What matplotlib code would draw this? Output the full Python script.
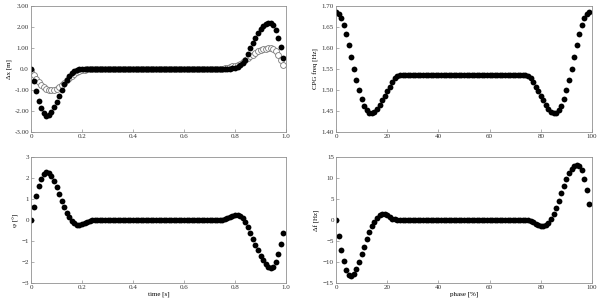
import numpy as np
import matplotlib
matplotlib.use("Agg")
import matplotlib.pyplot as plt

plt.rcParams['font.family'] = ['Liberation Serif', 'DejaVu Serif']
plt.rcParams['font.size'] = 5

# sample index 0..99 (phase of the cycle)
idx = np.arange(100)
t_left = idx / 100.0      # left column: time [s]
ph_right = idx * 1.0      # right column: phase [%]

flat = 49  # number of plateau samples (25..73)

# top left: filled and open series
dx_filled = ([0.0, -0.55, -1.05, -1.5, -1.85, -2.1, -2.22, -2.2, -2.05, -1.82,
              -1.55, -1.27, -0.98, -0.72, -0.5, -0.32, -0.19, -0.1, -0.05, -0.02,
              -0.01, 0.0, 0.0, 0.0, 0.0]
             + [0.0] * flat
             + [0.0, 0.0, 0.0, 0.01, 0.02, 0.04, 0.06, 0.1, 0.17, 0.28,
                0.45, 0.7, 0.98, 1.25, 1.5, 1.72, 1.9, 2.05, 2.16, 2.21,
                2.2, 2.08, 1.86, 1.5, 1.06, 0.54])
dx_open = ([-0.1, -0.3, -0.48, -0.63, -0.76, -0.86, -0.93, -0.98, -1.0, -0.99,
            -0.95, -0.88, -0.78, -0.66, -0.54, -0.42, -0.31, -0.22, -0.15, -0.09,
            -0.05, -0.03, -0.01, 0.0, 0.0]
           + [0.0] * flat
           + [0.01, 0.02, 0.04, 0.06, 0.09, 0.12, 0.14, 0.19, 0.24, 0.33,
              0.42, 0.51, 0.6, 0.69, 0.77, 0.84, 0.9, 0.93, 0.97, 0.99,
              0.99, 0.95, 0.84, 0.66, 0.43, 0.17])

# top right: CPG frequency (symmetric dip at both ends)
f_left = [1.686, 1.682, 1.671, 1.655, 1.633, 1.607, 1.579, 1.551, 1.524, 1.5,
          1.479, 1.463, 1.452, 1.446, 1.445, 1.448, 1.455, 1.464, 1.475, 1.486,
          1.497, 1.508, 1.519, 1.528, 1.533]
cpg_freq = f_left + [1.535] * 50 + f_left[::-1]

# bottom left
phi = ([0.0, 0.6, 1.15, 1.6, 1.97, 2.2, 2.3, 2.25, 2.08, 1.84,
        1.55, 1.23, 0.9, 0.6, 0.33, 0.12, -0.04, -0.15, -0.22, -0.24,
        -0.21, -0.15, -0.09, -0.04, -0.01]
       + [0.0] * flat
       + [0.0, 0.01, 0.04, 0.09, 0.15, 0.2, 0.23, 0.24, 0.2, 0.1,
          -0.08, -0.32, -0.6, -0.9, -1.18, -1.45, -1.7, -1.92, -2.1, -2.23,
          -2.29, -2.22, -1.98, -1.62, -1.15, -0.62])

# bottom right
dfreq = ([0.0, -3.8, -7.2, -9.8, -11.8, -13.0, -13.3, -12.8, -11.6, -10.0,
          -8.2, -6.4, -4.6, -2.9, -1.5, -0.4, 0.5, 1.1, 1.35, 1.35,
          1.1, 0.7, 0.35, 0.12, 0.03]
         + [0.0] * flat
         + [0.0, -0.05, -0.2, -0.5, -0.85, -1.15, -1.4, -1.45, -1.25, -0.7,
            0.2, 1.4, 2.9, 4.6, 6.4, 8.2, 9.8, 11.2, 12.2, 12.9,
            13.2, 12.9, 11.8, 9.8, 7.1, 3.7])

fig = plt.figure(figsize=(6.0, 3.04), dpi=100)
W, H = 600.0, 304.0


def make_ax(x0, x1, y0, y1):
    ax = fig.add_axes([x0 / W, 1 - y1 / H, (x1 - x0) / W, (y1 - y0) / H])
    for s in ax.spines.values():
        s.set_color('#909090')
        s.set_linewidth(0.6)
    ax.tick_params(direction='in', length=2, width=0.5, colors='#909090',
                   labelcolor='#333333', pad=1.5, top=False, right=False)
    return ax


dot = dict(marker='o', linestyle='none', markersize=4.2)

ax1 = make_ax(31, 286, 6, 132)
ax1.plot(t_left, dx_open, markerfacecolor='white', markeredgecolor='#7a7a7a',
         markeredgewidth=0.6, **dot)
ax1.plot(t_left, dx_filled, color='black', markeredgewidth=0, **dot)
ax1.set_xlim(0, 1.0)
ax1.set_ylim(-3, 3)
ax1.set_xticks([0, 0.2, 0.4, 0.6, 0.8, 1.0])
ax1.set_xticklabels(['0', '0.2', '0.4', '0.6', '0.8', '1.0'])
ax1.set_yticks([-3, -2, -1, 0, 1, 2, 3])
ax1.set_yticklabels(['-3.00', '-2.00', '-1.00', '0.0', '1.00', '2.00', '3.00'])
ax1.set_ylabel('Δx [m]', labelpad=2)

ax2 = make_ax(336, 592, 6, 132)
ax2.plot(ph_right, cpg_freq, color='black', markeredgewidth=0, **dot)
ax2.set_xlim(0, 100)
ax2.set_ylim(1.40, 1.70)
ax2.set_xticks([0, 20, 40, 60, 80, 100])
ax2.set_yticks([1.40, 1.45, 1.50, 1.55, 1.60, 1.65, 1.70])
ax2.set_yticklabels(['1.40', '1.45', '1.50', '1.55', '1.60', '1.65', '1.70'])
ax2.set_ylabel('CPG freq [Hz]', labelpad=2)

ax3 = make_ax(31, 286, 157, 283)
ax3.plot(t_left, phi, color='black', markeredgewidth=0, **dot)
ax3.set_xlim(0, 1.0)
ax3.set_ylim(-3, 3)
ax3.set_xticks([0, 0.2, 0.4, 0.6, 0.8, 1.0])
ax3.set_xticklabels(['0', '0.2', '0.4', '0.6', '0.8', '1.0'])
ax3.set_yticks([-3, -2, -1, 0, 1, 2, 3])
ax3.set_ylabel('φ [°]', labelpad=2)
ax3.set_xlabel('time [s]', labelpad=1)

ax4 = make_ax(336, 592, 157, 283)
ax4.plot(ph_right, dfreq, color='black', markeredgewidth=0, **dot)
ax4.set_xlim(0, 100)
ax4.set_ylim(-15, 15)
ax4.set_xticks([0, 20, 40, 60, 80, 100])
ax4.set_yticks([-15, -10, -5, 0, 5, 10, 15])
ax4.set_ylabel('Δf [Hz]', labelpad=2)
ax4.set_xlabel('phase [%]', labelpad=1)

fig.savefig('out.png', dpi=100)
